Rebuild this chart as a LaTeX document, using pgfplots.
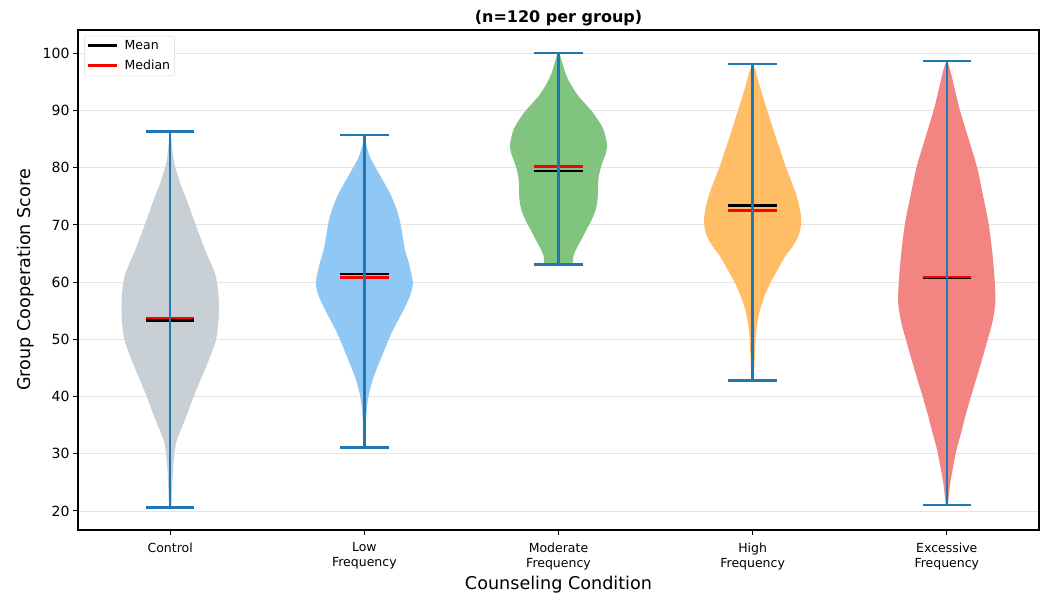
\documentclass[border=0pt]{standalone}
\usepackage{pgfplots}
\pgfplotsset{compat=1.18}
\usepackage{pgfplotstable}
\usepackage{fontspec}
\setmainfont{DejaVu Sans}

\definecolor{cctrl}{RGB}{200,208,213}
\definecolor{clow}{RGB}{144,200,245}
\definecolor{cmod}{RGB}{128,196,127}
\definecolor{chigh}{RGB}{255,190,102}
\definecolor{cexc}{RGB}{242,133,130}
\definecolor{mplblue}{RGB}{31,119,180}
\definecolor{gridc}{RGB}{228,228,228}

% violin profiles: value v, relative half-width w (1 = widest)
\pgfplotstableread{
v w
86.3 0.00
84.5 0.03
82.0 0.06
80.2 0.10
77.0 0.22
74.4 0.34
72.0 0.44
69.9 0.53
65.6 0.72
61.6 0.92
59.0 0.98
56.9 1.00
54.0 1.00
51.1 0.97
49.5 0.93
47.6 0.85
45.0 0.73
42.4 0.60
39.5 0.46
36.5 0.33
34.0 0.21
31.9 0.12
29.5 0.08
27.7 0.06
24.0 0.04
20.6 0.02
}\ctrl

\pgfplotstableread{
v w
85.7 0.00
84.3 0.03
82.0 0.11
80.2 0.22
77.5 0.40
75.5 0.53
73.5 0.63
71.5 0.71
69.5 0.76
67.4 0.80
65.5 0.84
63.9 0.90
61.8 0.96
59.8 1.00
57.8 0.95
55.7 0.84
53.4 0.70
51.1 0.56
48.7 0.44
46.4 0.33
44.3 0.23
42.3 0.15
40.2 0.09
38.2 0.055
35.5 0.03
33.6 0.02
31.1 0.01
}\low

\pgfplotstableread{
v w
100.0 0.02
98.3 0.08
96.8 0.13
95.4 0.20
93.9 0.30
92.4 0.42
91.0 0.57
89.5 0.72
88.0 0.84
86.6 0.93
84.0 1.00
82.4 0.97
80.8 0.90
79.3 0.85
77.9 0.82
75.0 0.81
73.5 0.79
72.0 0.74
70.5 0.66
69.1 0.57
67.6 0.48
66.2 0.39
64.7 0.31
63.1 0.25
}\moder

\pgfplotstableread{
v w
98.1 0.00
97.1 0.055
94.5 0.14
91.9 0.23
89.0 0.34
86.0 0.45
83.0 0.57
80.2 0.68
77.8 0.79
75.5 0.89
73.3 0.96
71.2 1.00
69.6 0.99
68.0 0.94
66.2 0.82
64.5 0.67
62.1 0.51
59.8 0.36
57.4 0.24
55.1 0.15
53.0 0.10
51.1 0.07
48.0 0.05
45.2 0.035
42.8 0.02
}\high

\pgfplotstableread{
v w
98.6 0.01
97.1 0.07
93.5 0.17
90.1 0.27
85.0 0.45
80.2 0.62
75.0 0.75
70.3 0.86
65.0 0.94
59.8 0.99
56.3 1.00
53.0 0.94
49.9 0.84
46.0 0.71
42.3 0.58
39.5 0.48
36.5 0.38
33.5 0.29
30.7 0.20
27.7 0.13
24.8 0.07
22.5 0.04
21.05 0.02
}\exc

% position, min, max, mean, median
\pgfplotstableread{
p lo hi mean med
1 20.6 86.3 53.3 53.7
2 31.1 85.7 61.4 60.8
3 63.1 100.0 79.4 80.2
4 42.8 98.1 73.4 72.5
5 21.05 98.6 60.85 60.9
}\stats

% closed violin outline: right side top->bottom, then left side bottom->top
\newcommand\violin[3]{%
  \pgfplotstablegetrowsof{#1}%
  \pgfmathtruncatemacro\nrows{\pgfplotsretval}%
  \pgfplotstablesort[sort key=v, sort cmp=float >]{\vboth}{#1}%
  \pgfplotstablesort[sort key=v, sort cmp=float <]{\vasc}{#1}%
  \pgfplotstablevertcat{\vboth}{\vasc}%
  \edef\temp{\noexpand\addplot[fill=#3, draw=none, smooth, forget plot]
    table[x expr={#2+0.25*\noexpand\thisrow{w}*((\noexpand\coordindex<\nrows) ? 1 : -1)}, y=v] {\noexpand\vboth};}%
  \temp
}

\begin{document}
\begin{tikzpicture}
\begin{axis}[
  name=ax, at={(0,0)}, anchor=south west,
  width=961pt, height=500pt, scale only axis,
  xmin=0.525, xmax=5.475, ymin=16.68, ymax=104.07,
  xtick={1,2,3,4,5},
  xticklabels={Control,{Low\\Frequency},{Moderate\\Frequency},{High\\Frequency},{Excessive\\Frequency}},
  xticklabel style={align=center, font=\fontsize{12.5}{15}\selectfont, yshift=-4pt},
  ytick={20,30,40,50,60,70,80,90,100},
  yticklabel style={font=\fontsize{14}{16}\selectfont},
  /pgf/number format/assume math mode=true,
  tick align=outside, major tick length=5pt,
  xtick pos=bottom, ytick pos=left,
  tick style={black, line width=1pt},
  axis line style={black, line width=1.2pt},
  ymajorgrids, grid style={gridc, line width=0.9pt},
  title={(n=120 per group)},
  title style={font=\bfseries\fontsize{16}{19}\selectfont, at={(axis description cs:0.5,1)}, anchor=base, yshift=1.5pt},
  xlabel={Counseling Condition},
  xlabel style={font=\fontsize{17.6}{20}\selectfont, at={(axis description cs:0.5,-0.11)}, anchor=center},
  ylabel={Group Cooperation Score},
  ylabel style={font=\fontsize{17.6}{20}\selectfont, at={(axis description cs:-0.0545,0.5)}, anchor=center, rotate=0},
  legend style={at={(axis description cs:0.0065,0.988)}, anchor=north west,
    font=\fontsize{12.5}{15}\selectfont, draw=black!15, rounded corners=2pt,
    row sep=5pt, inner sep=2.5pt, cells={anchor=west}},
  legend image code/.code={\draw[#1, line width=3pt] (0pt,0pt) -- (29pt,0pt); \path (34pt,0pt);},
]
\violin{\ctrl}{1}{cctrl}
\violin{\low}{2}{clow}
\violin{\moder}{3}{cmod}
\violin{\high}{4}{chigh}
\violin{\exc}{5}{cexc}

% means (black), medians (red), extrema bars (blue)
\pgfplotsinvokeforeach{0,...,4}{
  \pgfplotstablegetelem{#1}{p}\of\stats \edef\pp{\pgfplotsretval}
  \pgfplotstablegetelem{#1}{mean}\of\stats \edef\mm{\pgfplotsretval}
  \pgfplotstablegetelem{#1}{med}\of\stats \edef\md{\pgfplotsretval}
  \pgfplotstablegetelem{#1}{lo}\of\stats \edef\lo{\pgfplotsretval}
  \pgfplotstablegetelem{#1}{hi}\of\stats \edef\hi{\pgfplotsretval}
  \edef\temp{\noexpand\addplot[black, line width=2.6pt, forget plot] coordinates {(\pp-0.125,\mm) (\pp+0.125,\mm)};
    \noexpand\addplot[red, line width=2.6pt, forget plot] coordinates {(\pp-0.125,\md) (\pp+0.125,\md)};
    \noexpand\addplot[mplblue, line width=2.4pt, forget plot] coordinates {(\pp,\lo) (\pp,\hi)};
    \noexpand\addplot[mplblue, line width=2.4pt, forget plot] coordinates {(\pp-0.125,\lo) (\pp+0.125,\lo)};
    \noexpand\addplot[mplblue, line width=2.4pt, forget plot] coordinates {(\pp-0.125,\hi) (\pp+0.125,\hi)};}
  \temp
}

\addlegendimage{black}
\addlegendentry{Mean}
\addlegendimage{red}
\addlegendentry{Median}
\end{axis}
\pgfresetboundingbox
\path[use as bounding box] (-78pt,-66pt) rectangle (967pt,530pt);
\end{tikzpicture}
\end{document}
